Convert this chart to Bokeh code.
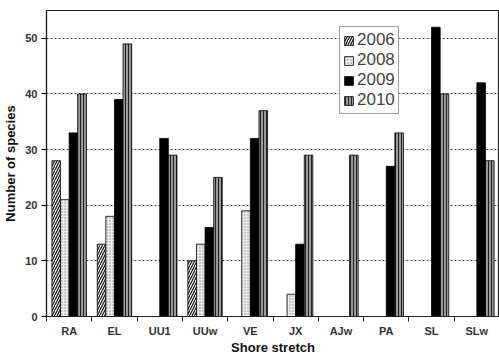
from bokeh.plotting import figure
from bokeh.models import ColumnDataSource, FixedTicker, Legend, LegendItem, Range1d
from bokeh.embed import file_html
from bokeh.resources import INLINE

categories = ["RA", "EL", "UU1", "UUw", "VE", "JX", "AJw", "PA", "SL", "SLw"]
years = ["2006", "2008", "2009", "2010"]
y2006 = [28, 13, 0, 10, 0, 0, 0, 0, 0, 0]
y2008 = [21, 18, 0, 13, 19, 4, 0, 0, 0, 0]
y2009 = [33, 39, 32, 16, 32, 13, 0, 27, 52, 42]
y2010 = [40, 49, 29, 25, 37, 29, 29, 33, 40, 28]
y_ticks = [0, 10, 20, 30, 40, 50]

series = [y2006, y2008, y2009, y2010]
offsets = [-0.285, -0.095, 0.095, 0.285]
styles = [
    dict(fill_color="white", hatch_pattern="right_diagonal_line", hatch_color="#222222", hatch_scale=5, hatch_weight=1.3),
    dict(fill_color="#eeeeee", hatch_pattern="dot", hatch_color="#888888", hatch_scale=3, hatch_weight=1),
    dict(fill_color="black", hatch_pattern=None),
    dict(fill_color="#999999", hatch_pattern="vertical_line", hatch_color="#222222", hatch_scale=3, hatch_weight=1),
]

p = figure(width=499, height=357, output_backend="svg", toolbar_location=None,
           x_range=Range1d(0, 10), y_range=Range1d(0, 55),
           min_border_left=45, min_border_top=10, min_border_right=0, min_border_bottom=0)
p.background_fill_color = "white"
p.border_fill_color = "white"
p.outline_line_color = "#222222"
p.outline_line_width = 1.2

items = []
for vals, off, st, yr in zip(series, offsets, styles, years):
    xs = [i + 0.5 + off for i in range(len(categories))]
    src = ColumnDataSource(dict(x=xs, top=vals))
    kw = dict(st)
    if kw.get("hatch_pattern") is None:
        kw.pop("hatch_pattern")
    r = p.vbar(x="x", top="top", width=0.19, source=src, line_color="black", line_width=0.8, **kw)
    items.append(LegendItem(label=yr, renderers=[r]))

legend = Legend(items=items, location=(293, 202))
legend.label_text_font = "Liberation Sans"
legend.label_text_font_size = "17px"
legend.label_height = 17
legend.glyph_height = 11
legend.glyph_width = 11
legend.spacing = 0
legend.padding = 3
legend.margin = 0
legend.label_standoff = 3
legend.border_line_color = "#444444"
legend.border_line_width = 1.2
legend.background_fill_alpha = 1
p.add_layout(legend, "center")

# x axis: labels centered, ticks at boundaries
p.xaxis.ticker = FixedTicker(ticks=[i + 0.5 for i in range(len(categories))],
                             minor_ticks=list(range(len(categories) + 1)))
p.xaxis.major_label_overrides = {i + 0.5: c for i, c in enumerate(categories)}
p.xaxis.major_tick_line_color = None
p.xaxis.major_tick_out = 0
p.xaxis.major_tick_in = 0
p.xaxis.minor_tick_out = 5
p.xaxis.minor_tick_in = 0
p.xaxis.minor_tick_line_color = "#222222"
p.xaxis.axis_label = "Shore stretch"

p.yaxis.ticker = FixedTicker(ticks=y_ticks, minor_ticks=[])
p.yaxis.major_tick_out = 5
p.yaxis.major_tick_in = 0
p.yaxis.axis_label = "Number of species"

for ax in (p.xaxis[0], p.yaxis[0]):
    ax.axis_line_color = "#222222"
    ax.axis_line_width = 1.2
    ax.major_label_text_font = "Liberation Sans"
    ax.major_label_text_font_size = "11px"
    ax.major_label_text_font_style = "bold"
    ax.major_label_text_color = "#333333"
    ax.axis_label_text_font = "Liberation Sans"
    ax.axis_label_text_font_size = "13px"
    ax.axis_label_text_font_style = "bold"
    ax.axis_label_text_color = "#111111"
p.xaxis.major_label_standoff = 3
p.xaxis.axis_label_standoff = 0
p.yaxis.major_label_standoff = 4
p.yaxis.axis_label_standoff = 4

p.xgrid.grid_line_color = None
p.ygrid.ticker = FixedTicker(ticks=[10, 20, 30, 40, 50])
p.ygrid.grid_line_color = "#444444"
p.ygrid.grid_line_dash = "2 2"
p.ygrid.grid_line_width = 1

open("out.html", "w").write(file_html(p, INLINE))
